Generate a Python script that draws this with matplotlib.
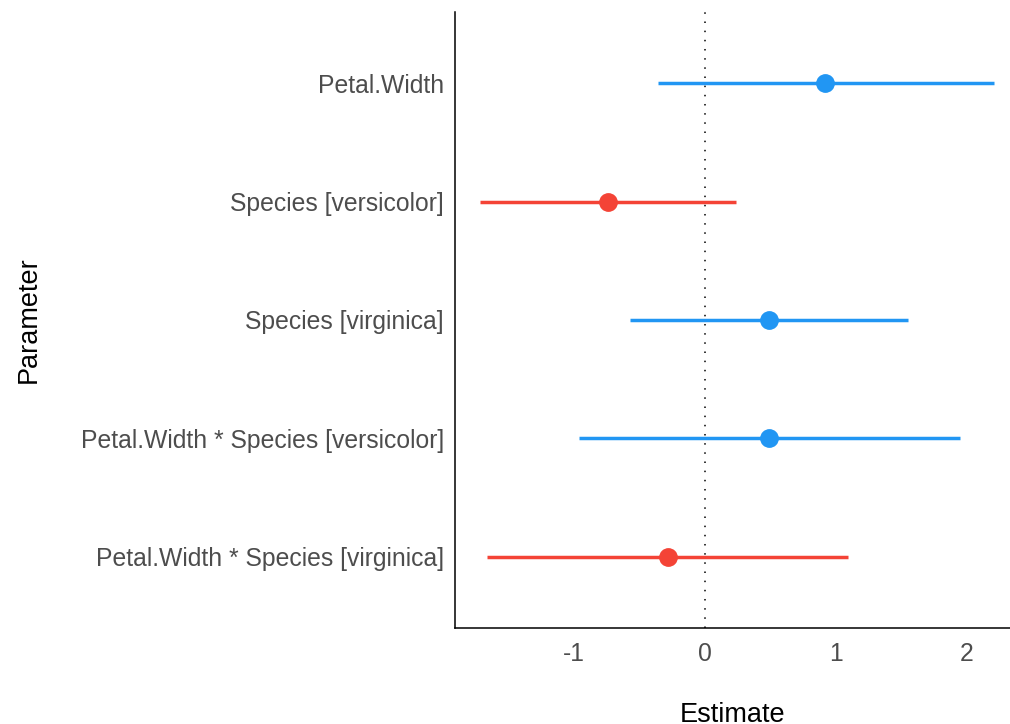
import matplotlib
matplotlib.use("Agg")
import matplotlib.pyplot as plt

params = ["Petal.Width", "Species [versicolor]", "Species [virginica]",
          "Petal.Width * Species [versicolor]", "Petal.Width * Species [virginica]"]
estimates = [0.92, -0.74, 0.49, 0.49, -0.28]
ci_low = [-0.36, -1.72, -0.57, -0.96, -1.66]
ci_high = [2.21, 0.24, 1.55, 1.95, 1.09]

blue = "#2196F3"
red = "#F44336"

plt.rcParams['font.family'] = ['Liberation Sans', 'DejaVu Sans']
fig = plt.figure(figsize=(10.10, 7.24), dpi=100)
ax = fig.add_axes([455/1010, 1 - 628/724, 1 - 455/1010, (628 - 12)/724])

n = len(params)
ys = [n - i for i in range(n)]
ax.axvline(0, color="black", linestyle=(0, (1, 5)), linewidth=1.1, zorder=1)
for y, e, lo, hi in zip(ys, estimates, ci_low, ci_high):
    c = blue if e > 0 else red
    ax.plot([lo, hi], [y, y], color=c, linewidth=2.5, solid_capstyle='butt', zorder=2)
    ax.plot([e], [y], 'o', color=c, markersize=12.5, zorder=3)

ax.set_xlim(-1.908, 2.33)
ax.set_ylim(0.4, n + 0.6)
ax.set_yticks(ys)
ax.set_yticklabels(params)
ax.set_xticks([-1, 0, 1, 2])
ax.set_xticklabels(["-1", "0", "1", "2"])
for s in ["top", "right"]:
    ax.spines[s].set_visible(False)
for s in ["left", "bottom"]:
    ax.spines[s].set_linewidth(1.1)
    ax.spines[s].set_color("black")
ax.tick_params(axis='both', length=0, labelsize=17.8, colors="#4D4D4D", pad=8)
ax.tick_params(axis='x', pad=10)
ax.set_xlabel("Estimate", fontsize=19.5, color="black", labelpad=26)
ax.set_ylabel("Parameter", fontsize=19.5, color="black", labelpad=28)
fig.savefig("out.png", dpi=100)
